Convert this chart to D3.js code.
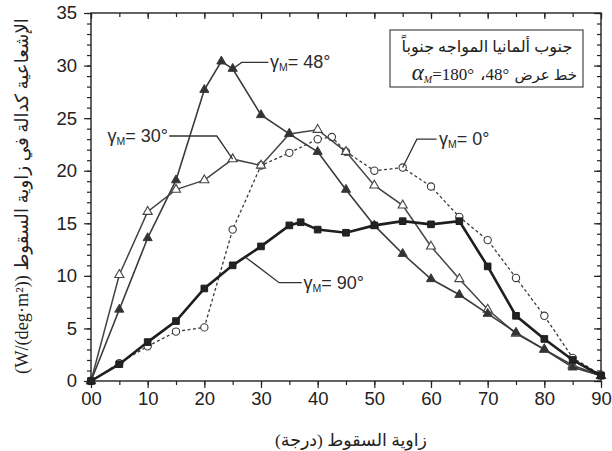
<!DOCTYPE html>
<html><head><meta charset="utf-8">
<script src="https://cdn.jsdelivr.net/npm/d3@7"></script>
<style>body{margin:0;background:#fff}</style>
</head><body><svg id="c" width="612" height="451"></svg>
<script>
// ---------- data ----------
const xMajor = [0,10,20,30,40,50,60,70,80,90];
const xTickLabels = ["00","10","20","30","40","50","60","70","80","90"];
const yMajor = [0,5,10,15,20,25,30,35];

const g0X  = [0,5,10,15,20,25,30,35,40,42.5,45,50,55,60,65,70,75,80,85,90];
const g0Y  = [0,1.7,3.3,4.7,5.1,14.4,20.5,21.7,23.0,23.2,21.8,20.0,20.3,18.5,15.6,13.4,9.8,6.2,2.2,0.6];
const g30X = [0,5,10,15,20,25,30,35,40,45,50,55,60,65,70,75,80,85,90];
const g30Y = [0,10.1,16.1,18.2,19.1,21.1,20.5,23.5,23.9,21.8,18.6,16.7,12.8,9.7,6.8,4.5,3.0,1.5,0.5];
const g48X = [0,5,10,15,20,23,25,30,35,40,45,50,55,60,65,70,75,80,85,90];
const g48Y = [0,6.8,13.6,19.1,27.7,30.4,29.7,25.3,23.5,21.8,18.2,14.8,12.1,9.7,8.2,6.4,4.6,3.0,1.3,0.5];
const g90X = [0,5,10,15,20,25,30,35,37,40,45,50,55,60,65,70,75,80,85,90];
const g90Y = [0,1.6,3.7,5.7,8.8,11.0,12.8,14.8,15.1,14.4,14.1,14.8,15.2,14.9,15.2,10.9,6.2,4.0,2.0,0.5];

const seriesLabels = ["0","30","48","90"];
// annotation leaders in data coordinates
const lead0  = [[55,20.3],[57.5,23.0],[61.0,23.0]];
const lead30 = [[25,21.1],[22.2,23.3],[13.8,23.3]];
const lead48 = [[25,29.7],[26.6,30.3],[31.3,30.3]];
const lead90 = [[27.2,11.8],[33.2,9.35],[37.2,9.35]];
const labPos0 = [61.4,22.4], labPos30 = [13.6,22.7], labPos48 = [31.6,29.8], labPos90 = [37.5,8.75];

const xTitle = "زاوية السقوط (درجة)";
const yTitle = "الإشعاعية كدالة في زاوية السقوط (W/(deg·m²))";
const boxLine1 = "جنوب ألمانيا المواجه جنوباً";
const boxLine2a = "خط عرض";
const boxLine2b = "،48°";

// ---------- chart ----------
const svg = d3.select("#c");
const L=91, R=601, T=13, B=381;
const x = d3.scaleLinear().domain([0,90]).range([L,R]);
const y = d3.scaleLinear().domain([0,35]).range([B,T]);
const ink = "#222";
const sans = "'Liberation Sans', Arial, sans-serif";
const serif = "'Liberation Serif', 'Times New Roman', 'DejaVu Sans', serif";

function styleAxis(g){
  g.select(".domain").remove();
  g.selectAll("line").attr("stroke",ink).attr("stroke-width",1.2);
  g.selectAll("text").attr("font-family",sans).attr("font-size",18.5).attr("fill",ink);
}
// minor ticks
svg.append("g").attr("transform",`translate(0,${B})`)
  .call(d3.axisBottom(x).tickValues(d3.range(0,91,5)).tickSize(4).tickFormat("")).call(styleAxis);
svg.append("g").attr("transform",`translate(0,${T})`)
  .call(d3.axisTop(x).tickValues(d3.range(0,91,5)).tickSize(-4).tickFormat("")).call(styleAxis);
svg.append("g").attr("transform",`translate(${L},0)`)
  .call(d3.axisLeft(y).tickValues(d3.range(0,36,1)).tickSize(4).tickFormat("")).call(styleAxis);
svg.append("g").attr("transform",`translate(${R},0)`)
  .call(d3.axisRight(y).tickValues(d3.range(0,36,1)).tickSize(-4).tickFormat("")).call(styleAxis);
// major ticks
svg.append("g").attr("transform",`translate(0,${B})`)
  .call(d3.axisBottom(x).tickValues(xMajor).tickSize(7).tickPadding(4).tickFormat((d,i)=>xTickLabels[i])).call(styleAxis);
svg.append("g").attr("transform",`translate(0,${T})`)
  .call(d3.axisTop(x).tickValues(xMajor).tickSize(-6).tickFormat("")).call(styleAxis);
svg.append("g").attr("transform",`translate(${L},0)`)
  .call(d3.axisLeft(y).tickValues(yMajor).tickSize(7).tickPadding(7)).call(styleAxis);
svg.append("g").attr("transform",`translate(${R},0)`)
  .call(d3.axisRight(y).tickValues(yMajor).tickSize(-7).tickFormat("")).call(styleAxis);
// frame
svg.append("rect").attr("x",L).attr("y",T).attr("width",R-L).attr("height",B-T)
  .attr("fill","none").attr("stroke",ink).attr("stroke-width",1.4);

// series
const series = [
  {xs:g0X, ys:g0Y, dash:"3,2.5", w:1.3, color:"#3a3a3a", sym:d3.symbolCircle, size:42, fill:"#fff", sw:1.1},
  {xs:g30X, ys:g30Y, dash:null, w:1.5, color:"#444", sym:d3.symbolTriangle, size:36, fill:"#fff", sw:1.1},
  {xs:g48X, ys:g48Y, dash:null, w:1.6, color:"#3a3a3a", sym:d3.symbolTriangle, size:36, fill:"#333", sw:1},
  {xs:g90X, ys:g90Y, dash:null, w:2.6, color:"#1e1e1e", sym:d3.symbolSquare, size:44, fill:"#222", sw:1},
];
const line = d3.line().x(d=>x(d[0])).y(d=>y(d[1]));
series.forEach(s=>{
  const pts = s.xs.map((v,i)=>[v,s.ys[i]]);
  svg.append("path").datum(pts).attr("d",line).attr("fill","none")
    .attr("stroke",s.color).attr("stroke-width",s.w).attr("stroke-dasharray",s.dash);
  svg.append("g").selectAll("path").data(pts).join("path")
    .attr("transform",d=>`translate(${x(d[0])},${y(d[1])})`)
    .attr("d",d3.symbol().type(s.sym).size(s.size))
    .attr("fill",s.fill).attr("stroke",s.color).attr("stroke-width",s.sw);
});

// annotations
function gammaLabel(pos, val, anchor){
  const t = svg.append("text").attr("x",x(pos[0])).attr("y",y(pos[1]))
    .attr("font-family",sans).attr("font-size",18).attr("fill","#2a2a2a").attr("text-anchor",anchor);
  t.append("tspan").text("γ");
  t.append("tspan").attr("font-size",10.5).attr("dy",3).text("M");
  t.append("tspan").attr("dy",-3).text("= "+val+"°");
}
[[lead0,labPos0,seriesLabels[0],"start"],[lead30,labPos30,seriesLabels[1],"end"],
 [lead48,labPos48,seriesLabels[2],"start"],[lead90,labPos90,seriesLabels[3],"start"]].forEach(a=>{
  svg.append("path").datum(a[0]).attr("d",line).attr("fill","none").attr("stroke","#333").attr("stroke-width",1.3);
  gammaLabel(a[1],a[2],a[3]);
});

// legend box
svg.append("rect").attr("x",390).attr("y",30).attr("width",193).attr("height",57)
  .attr("fill","#fff").attr("stroke","#555").attr("stroke-width",1.3);
const l1 = svg.append("text").attr("x",487).attr("y",52).attr("text-anchor","middle")
  .attr("direction","rtl").attr("font-family",serif).attr("font-size",15).attr("fill",ink).text(boxLine1);
function fit(t, target){ const w=t.node().getComputedTextLength(); const fs=+t.attr("font-size"); t.attr("font-size",fs*target/w); }
fit(l1,171);
const a2 = svg.append("text").attr("x",577).attr("y",80).attr("text-anchor","end")
  .attr("font-family",serif).attr("font-size",15).attr("fill",ink).text(boxLine2a);
const wa = a2.node().getComputedTextLength();
const b2 = svg.append("text").attr("x",577-wa-5).attr("y",80).attr("text-anchor","end")
  .attr("font-family",serif).attr("font-size",17).attr("fill",ink).text(boxLine2b);
const wb = b2.node().getComputedTextLength();
const c2 = svg.append("text").attr("x",577-wa-5-wb-6).attr("y",80).attr("text-anchor","end")
  .attr("font-family",serif).attr("font-size",17).attr("fill",ink);
c2.append("tspan").attr("font-style","italic").attr("font-size",23).text("α");
c2.append("tspan").attr("font-style","italic").attr("font-size",10).attr("dy",3).text("M");
c2.append("tspan").attr("dy",-3).text("=180°");

// axis titles
const xt = svg.append("text").attr("x",351).attr("y",446).attr("text-anchor","middle")
  .attr("direction","rtl").attr("font-family",serif).attr("font-size",17).attr("fill",ink).text(xTitle);
fit(xt,152);
const yt = svg.append("text").attr("transform","translate(28,196) rotate(-90)").attr("text-anchor","middle")
  .attr("direction","rtl").attr("font-family",serif).attr("font-size",16).attr("fill",ink).text(yTitle);
fit(yt,356);
</script></body></html>
